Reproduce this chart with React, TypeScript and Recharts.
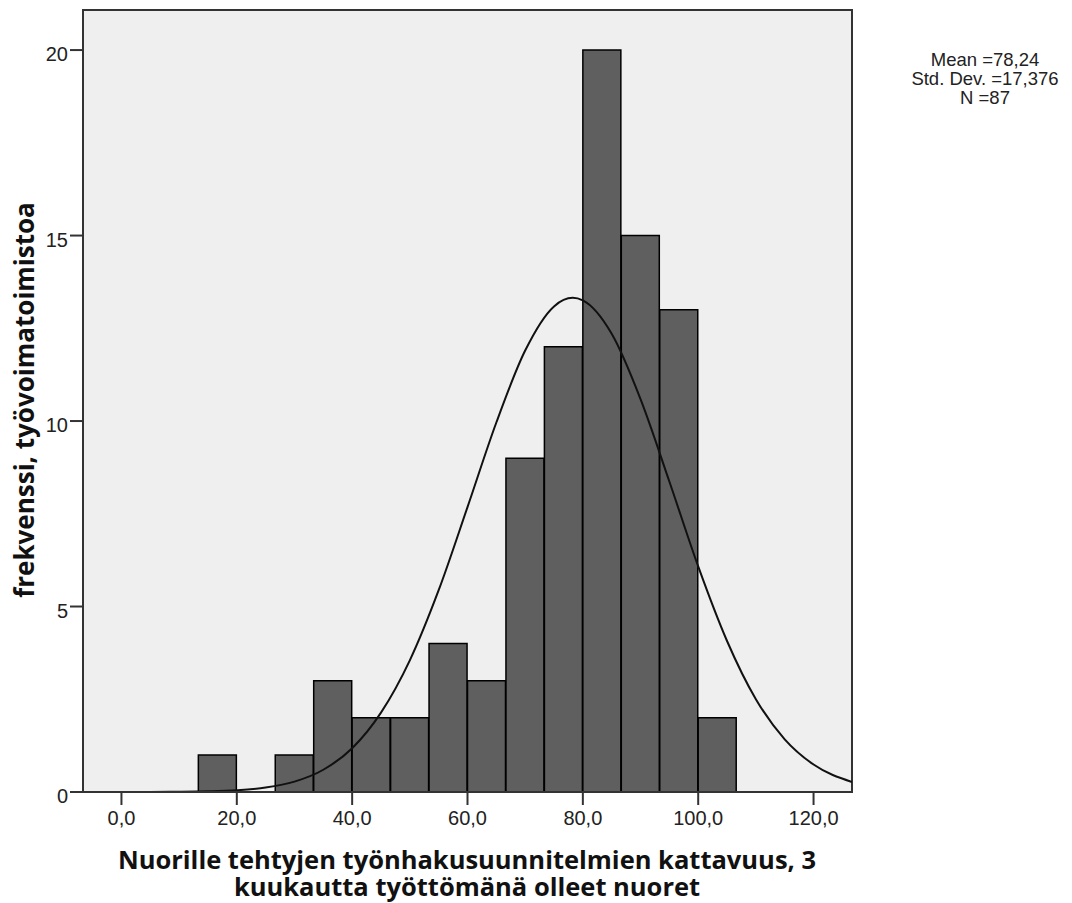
import { ComposedChart, Bar, Line, XAxis, YAxis, CartesianGrid, ReferenceArea } from 'recharts';

// histogram bins (width 6.667), left edges
const binStarts = [
  -6.667, 0, 6.667, 13.333, 20, 26.667, 33.333, 40, 46.667, 53.333,
  60, 66.667, 73.333, 80, 86.667, 93.333, 100, 106.667, 113.333, 120,
];
const binCounts = [0, 0, 0, 1, 0, 1, 3, 2, 2, 4, 3, 9, 12, 20, 15, 13, 2, 0, 0, 0];

// normal curve
const curveX = [
  -6.667, 0, 5, 10, 15, 20, 25, 30, 35, 40, 45, 50, 55, 60, 65, 70, 75, 78.24,
  80, 85, 90, 95, 100, 105, 110, 115, 120, 126.667,
];
const curveY = [
  0.0001, 0.0005, 0.002, 0.006, 0.018, 0.048, 0.12, 0.28, 0.6, 1.18, 2.14, 3.55, 5.44, 7.68,
  9.96, 11.9, 13.09, 13.32, 13.25, 12.35, 10.59, 8.37, 6.08, 4.07, 2.5, 1.42, 0.74, 0.27,
];

const xTicks = [0, 20, 40, 60, 80, 100, 120];
const yTicks = [0, 5, 10, 15, 20];

const statLines = ['Mean =78,24', 'Std. Dev. =17,376', 'N =87'];
const xTitle = ['Nuorille tehtyjen työnhakusuunnitelmien kattavuus, 3', 'kuukautta työttömänä olleet nuoret'];
const yTitle = 'frekvenssi, työvoimatoimistoa';

const bins = binStarts.map((s, i) => ({ bin: String(s), count: binCounts[i] }));
const curve = curveX.map((x, i) => ({ x, y: curveY[i] }));

const titleFont = '"Open Sans", Lato, sans-serif';
const tickFont = '"Liberation Sans", Arial, sans-serif';

export default function App() {
  return (
    <div style={{ position: 'absolute', left: 0, top: 0, width: 1072, height: 903, background: '#fff' }}>
      <ComposedChart
        width={1072}
        height={903}
        data={bins}
        barCategoryGap={0}
        margin={{ top: 10, right: 220, bottom: 81, left: 0 }}
      >
        <CartesianGrid fill="#efefef" horizontal={false} vertical={false} stroke="none" />
        <XAxis xAxisId="bins" dataKey="bin" type="category" hide height={0} />
        <XAxis
          xAxisId="val"
          dataKey="x"
          type="number"
          domain={[-6.667, 126.667]}
          allowDataOverflow
          ticks={xTicks}
          tickFormatter={(v: number) => v.toFixed(1).replace('.', ',')}
          height={30}
          tickSize={13}
          tickMargin={6}
          stroke="#333"
          strokeWidth={2}
          tick={{ fill: '#222', fontSize: 20, fontFamily: tickFont }}
        />
        <YAxis
          domain={[0, 21.08]}
          allowDataOverflow
          ticks={yTicks}
          width={83}
          tickSize={13}
          tickMargin={2}
          stroke="#333"
          strokeWidth={2}
          tick={{ fill: '#222', fontSize: 20, fontFamily: tickFont, dy: 4 }}
        />
        <Bar
          xAxisId="bins"
          dataKey="count"
          fill="#5f5f5f"
          stroke="#000"
          strokeWidth={1.5}
          isAnimationActive={false}
        />
        <Line
          xAxisId="val"
          data={curve}
          dataKey="y"
          type="monotone"
          stroke="#111"
          strokeWidth={2}
          dot={false}
          activeDot={false}
          isAnimationActive={false}
        />
        <ReferenceArea
          xAxisId="val"
          x1={-6.667}
          x2={126.667}
          y1={0}
          y2={21.08}
          ifOverflow="visible"
          fill="none"
          stroke="#333"
          strokeWidth={2}
        />
      </ComposedChart>
      <svg width={1072} height={903} style={{ position: 'absolute', left: 0, top: 0, pointerEvents: 'none' }}>
        {statLines.map((t, i) => (
          <text key={t} x={985} y={66 + i * 19} textAnchor="middle" fontSize={18.5} fontFamily={tickFont} fill="#222">
            {t}
          </text>
        ))}
        {xTitle.map((t, i) => (
          <text key={t} x={467} y={869 + i * 27} textAnchor="middle" fontSize={25.5} fontWeight="bold" fontFamily={titleFont} fill="#111">
            {t}
          </text>
        ))}
        <text
          transform="translate(34,400) rotate(-90)"
          textAnchor="middle"
          fontSize={26}
          fontWeight="bold"
          fontFamily={titleFont}
          fill="#111"
        >
          {yTitle}
        </text>
      </svg>
    </div>
  );
}
